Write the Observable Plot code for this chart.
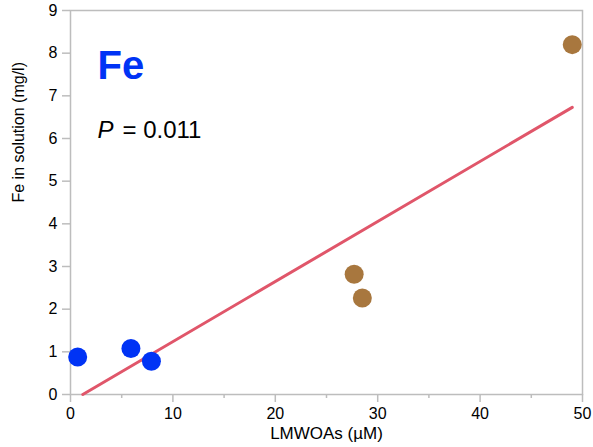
<!DOCTYPE html>
<html><head><meta charset="utf-8">
<script src="https://cdn.jsdelivr.net/npm/d3@7"></script>
<script src="https://cdn.jsdelivr.net/npm/@observablehq/plot@0.6"></script>
<style>body{margin:0;background:#fff}</style>
</head><body><div id="chart"></div>
<script>
const blueX = [0.7, 5.9, 7.9];
const blueY = [0.88, 1.08, 0.78];
const brownX = [27.7, 28.5, 49.0];
const brownY = [2.82, 2.26, 8.2];
const fitX = [1.2, 49.0];
const fitY = [0.0, 6.73];
const xTicks = [0, 10, 20, 30, 40, 50];
const xMinor = [5, 15, 25, 35, 45];
const yTicks = [0,1,2,3,4,5,6,7,8,9];
const xLabel = "LMWOAs (µM)";
const yLabel = "Fe in solution (mg/l)";
const title = "Fe";
const pText = "= 0.011";

const blue = blueX.map((x,i)=>({x, y: blueY[i]}));
const brown = brownX.map((x,i)=>({x, y: brownY[i]}));
const fit = fitX.map((x,i)=>({x, y: fitY[i]}));
const grey = "#bdbdbd";
const font = "Liberation Sans, Arial, sans-serif";

const chart = Plot.plot({
  width: 593, height: 447,
  marginLeft: 70, marginTop: 10, marginRight: 11, marginBottom: 53,
  x: {domain: [0, 50]},
  y: {domain: [0, 9]},
  style: {fontFamily: font, background: "#fff"},
  marks: [
    Plot.axisX({ticks: xTicks, tickSize: 8, tickPadding: 5, fontSize: 16, stroke: grey, strokeWidth: 1.5, color: "#000", label: null, tickFormat: d=>d}),
    Plot.axisX({ticks: xMinor, tickSize: 4, text: null, stroke: grey, strokeWidth: 1.5, label: null}),
    Plot.axisY({ticks: yTicks, tickSize: 8, tickPadding: 5, fontSize: 16, stroke: grey, strokeWidth: 1.5, label: null}),
    Plot.frame({stroke: grey, strokeWidth: 1.5}),
    Plot.line(fit, {x: "x", y: "y", stroke: "#e0566a", strokeWidth: 3}),
    Plot.dot(blue, {x: "x", y: "y", r: 9.5, fill: "#0033f5"}),
    Plot.dot(brown, {x: "x", y: "y", r: 9.5, fill: "#a8773e"}),
    Plot.text([yLabel], {text: d=>d, frameAnchor: "left", dx: -52, rotate: -90, fontSize: 16, fill: "#000"}),
    Plot.text([xLabel], {text: d=>d, frameAnchor: "bottom", dy: 44, fontSize: 17, fill: "#000"}),
    Plot.text([title], {text: d=>d, frameAnchor: "top-left", dx: 27, dy: 68, textAnchor: "start", lineAnchor: "bottom", fontSize: 40, fontWeight: "bold", fill: "#0033f5"}),
    Plot.text(["P"], {text: d=>d, frameAnchor: "top-left", dx: 27, dy: 127, textAnchor: "start", lineAnchor: "bottom", fontSize: 24, fontStyle: "italic", fill: "#000"}),
    Plot.text([pText], {text: d=>d, frameAnchor: "top-left", dx: 52, dy: 127, textAnchor: "start", lineAnchor: "bottom", fontSize: 24, fill: "#000"})
  ]
});
document.getElementById("chart").appendChild(chart);
</script></body></html>
